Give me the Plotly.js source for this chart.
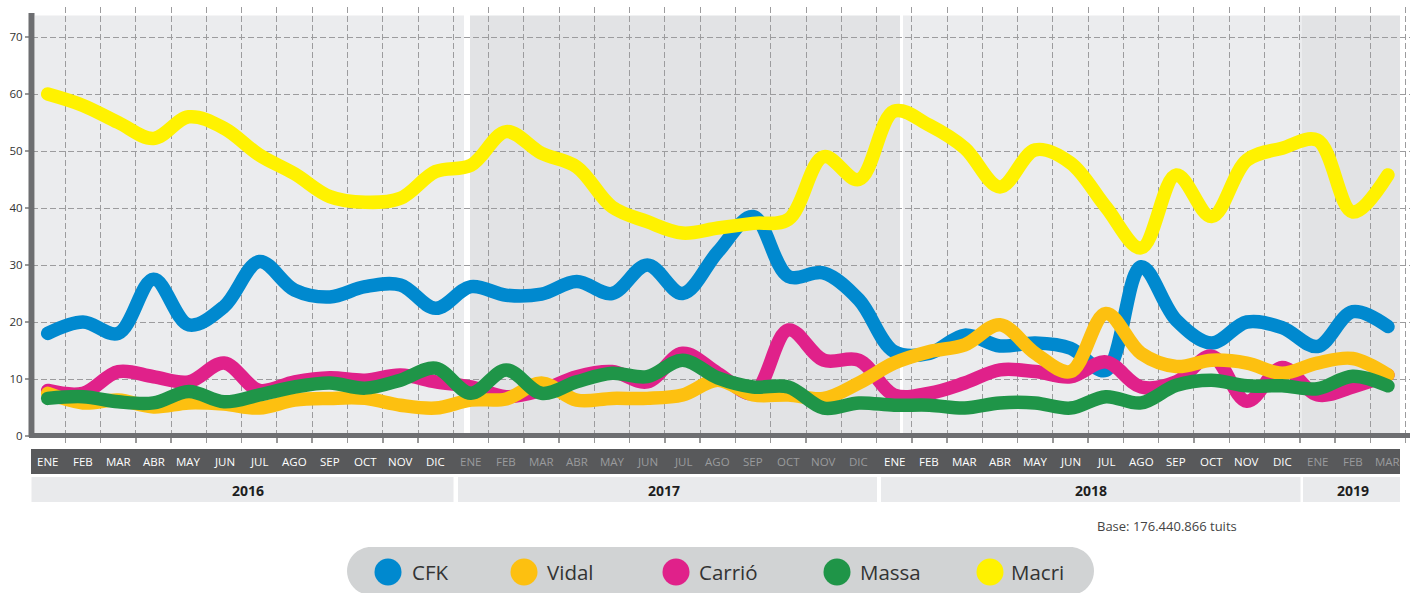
<!DOCTYPE html>
<html>
<head>
<meta charset="utf-8">
<script src="https://cdn.plot.ly/plotly-3.0.1.min.js"></script>
<style>
html,body{margin:0;padding:0;background:#fff;}
#chart{width:1414px;height:593px;}
.scatterlayer .js-line{stroke-linecap:round;stroke-linejoin:round;}
</style>
</head>
<body>
<div id="chart"></div>
<script>
// ---------- DATA ----------
const monthLabels = [
  'ENE','FEB','MAR','ABR','MAY','JUN','JUL','AGO','SEP','OCT','NOV','DIC',
  'ENE','FEB','MAR','ABR','MAY','JUN','JUL','AGO','SEP','OCT','NOV','DIC',
  'ENE','FEB','MAR','ABR','MAY','JUN','JUL','AGO','SEP','OCT','NOV','DIC',
  'ENE','FEB','MAR'
];
const monthYear = [
  2016,2016,2016,2016,2016,2016,2016,2016,2016,2016,2016,2016,
  2017,2017,2017,2017,2017,2017,2017,2017,2017,2017,2017,2017,
  2018,2018,2018,2018,2018,2018,2018,2018,2018,2018,2018,2018,
  2019,2019,2019
];
const years = ['2016','2017','2018','2019'];
const seriesNames = ['CFK','Vidal','Carrió','Massa','Macri'];

const CFK = [18, 20, 18, 27.5, 19.5, 22.7, 30.6, 25.6, 24.4, 26.2, 26.5, 22.4,
             26.2, 24.7, 24.9, 27.1, 25, 30, 25, 32.3, 38.5, 28, 28.6, 23.9,
             14.8, 14.5, 17.7, 15.8, 16.3, 15.4, 11.5, 29.7, 20.3, 16.3, 20, 19,
             15.7, 21.8, 19.2];
const Vidal = [7.5, 5.8, 6.3, 5.1, 5.8, 5.6, 4.9, 6.3, 6.6, 6.6, 5.4, 4.9,
               6.3, 6.5, 9.3, 6.3, 6.6, 6.6, 7.2, 9.8, 7.2, 7.2, 6.6, 9.3,
               12.8, 14.8, 16, 19.5, 14.5, 11.3, 21.5, 14.5, 12.2, 13.3, 12.8, 11,
               12.8, 13.6, 10.7];
const Carrio = [8, 7.5, 11.3, 10.4, 9.5, 12.8, 8, 9.5, 10.2, 9.8, 10.7, 9.5,
                8.6, 6.9, 8, 10.4, 11.3, 9.5, 14.5, 11, 7.5, 18.6, 13.3, 13.3,
                7.2, 7.5, 9.3, 11.6, 11.3, 10.4, 13, 8.6, 9.5, 14, 6.1, 12, 7.2, 8.6, 10.7];
const Massa = [6.6, 6.9, 6.0, 5.8, 7.8, 6.0, 7.2, 8.6, 9.3, 8.4, 9.8, 11.9,
               7.5, 11.6, 7.5, 9.5, 11, 10.4, 13.3, 10.2, 8.6, 8.6, 4.9, 5.8,
               5.4, 5.4, 4.9, 5.8, 5.8, 4.9, 6.9, 5.8, 8.9, 9.8, 8.8, 8.8,
               8.3, 10.5, 8.8];
const Macri = [60, 58, 55, 52.2, 56, 54, 49.3, 46, 42, 41, 41.7, 46.4,
               47.5, 53.4, 49.6, 47.2, 40.2, 37.6, 35.6, 36.5, 37.3, 38, 49, 45,
               57, 54.5, 50.5, 43.7, 50.2, 47.9, 40.2, 33, 45.8, 38.5, 48.4, 50.5,
               51.9, 39.3, 45.8];
const yTicks = [0,10,20,30,40,50,60,70];
const baseText = 'Base: 176.440.866 tuits';

// ---------- STYLE ----------
const colors = {CFK:'#0089CF', Vidal:'#FDC010', 'Carrió':'#E0218A', Massa:'#1F9548', Macri:'#FFF200'};
const FONT = '"Open Sans", Roboto, sans-serif';
const L = 32, R = 1410, T = 7, B = 436;
const W = R - L, H = B - T;
const px = x => (x - L) / W;
const py = y => (B - y) / H;
const X0 = 47.7, DX = 35.27;   // pixel of first month, pixels per month
const xi = p => (p - X0) / DX;  // pixel -> month index
const idx = monthLabels.map((_, i) => i);

// draw order (bottom -> top)
const order = [['CFK', CFK], ['Carrió', Carrio], ['Vidal', Vidal], ['Massa', Massa], ['Macri', Macri]];
const traces = order.map(([name, vals]) => ({
  type: 'scatter', mode: 'lines', name: name, x: idx, y: vals,
  line: {color: colors[name], width: 13.5, shape: 'spline', smoothing: 1},
  hoverinfo: 'x+y+name', showlegend: false
}));

const shapes = [];
const annotations = [];

// year panels in plot background
const panels = [
  [35, 464, '#EBECEE'], [470, 900, '#E2E3E5'], [903, 1302, '#EBECEE'], [1302, 1400, '#E2E3E5']
];
panels.forEach(([a, b, c]) => shapes.push({
  type: 'rect', layer: 'below', xref: 'x', yref: 'paper',
  x0: xi(a), x1: xi(b), y0: 0, y1: py(15.5), fillcolor: c, line: {width: 0}
}));

// axis lines
shapes.push({type: 'line', layer: 'above', xref: 'paper', yref: 'paper',
  x0: px(31.5), x1: px(31.5), y0: py(437), y1: py(13), line: {color: '#6D6E71', width: 6}});
shapes.push({type: 'line', layer: 'above', xref: 'paper', yref: 'paper',
  x0: px(29), x1: px(1410), y0: py(435.5), y1: py(435.5), line: {color: '#6D6E71', width: 5}});

// month band
shapes.push({type: 'rect', layer: 'above', xref: 'paper', yref: 'paper',
  x0: px(31), x1: px(1400), y0: py(449), y1: py(474), fillcolor: '#58595B', line: {width: 0}});
idx.forEach(i => {
  const dim = (monthYear[i] === 2017 || monthYear[i] === 2019);
  annotations.push({xref: 'x', yref: 'paper', x: i, y: py(461.5), text: monthLabels[i],
    showarrow: false, xanchor: 'center', yanchor: 'middle',
    font: {family: FONT, size: 11.5, color: dim ? '#9A9B9D' : '#FFFFFF'}});
});

// year boxes
const yearBoxes = [[31.5, 453.5, 248], [458, 877, 664], [881, 1300.5, 1091], [1303, 1400, 1353]];
yearBoxes.forEach(([a, b, c], k) => {
  shapes.push({type: 'rect', layer: 'above', xref: 'paper', yref: 'paper',
    x0: px(a), x1: px(b), y0: py(477), y1: py(502), fillcolor: '#E9EAEC', line: {width: 0}});
  annotations.push({xref: 'paper', yref: 'paper', x: px(c), y: py(490), text: '<b>' + years[k] + '</b>',
    showarrow: false, xanchor: 'center', yanchor: 'middle',
    font: {family: FONT, size: 14, color: '#1E1E1E'}});
});

// base note
annotations.push({xref: 'paper', yref: 'paper', x: px(1095), y: py(526), text: baseText,
  showarrow: false, xanchor: 'left', yanchor: 'middle',
  font: {family: FONT, size: 13, color: '#444'}});

// legend pill
const r = 24, k = 0.5523 * r, lx = 347, rx = 1094, ty = 547, by = 595, cy = 571;
const P = (x, y) => px(x) + ',' + py(y);
const pill = 'M' + P(lx + r, ty) + ' L' + P(rx - r, ty) +
  ' C' + P(rx - r + k, ty) + ' ' + P(rx, cy - k) + ' ' + P(rx, cy) +
  ' C' + P(rx, cy + k) + ' ' + P(rx - r + k, by) + ' ' + P(rx - r, by) +
  ' L' + P(lx + r, by) +
  ' C' + P(lx + r - k, by) + ' ' + P(lx, cy + k) + ' ' + P(lx, cy) +
  ' C' + P(lx, cy - k) + ' ' + P(lx + r - k, ty) + ' ' + P(lx + r, ty) + ' Z';
shapes.push({type: 'path', layer: 'above', xref: 'paper', yref: 'paper', path: pill,
  fillcolor: '#D1D3D4', line: {width: 0}});
const legendPos = [[388, 410], [524, 545], [676, 697], [837, 858], [990, 1009]];
seriesNames.forEach((n, i) => {
  const [c, t] = legendPos[i], rad = 13.5;
  shapes.push({type: 'circle', layer: 'above', xref: 'paper', yref: 'paper',
    x0: px(c - rad), x1: px(c + rad), y0: py(572 + rad), y1: py(572 - rad),
    fillcolor: colors[n], line: {width: 0}});
  annotations.push({xref: 'paper', yref: 'paper', x: px(t), y: py(572), text: n,
    showarrow: false, xanchor: 'left', yanchor: 'middle',
    font: {family: FONT, size: 20.5, color: '#333'}});
});

const layout = {
  width: 1414, height: 593,
  margin: {l: L, r: 1414 - R, t: T, b: 593 - B, pad: 0},
  paper_bgcolor: '#FFFFFF', plot_bgcolor: 'rgba(0,0,0,0)',
  showlegend: false,
  font: {family: FONT},
  xaxis: {
    range: [xi(L), xi(R)], showticklabels: false,
    tickmode: 'array', tickvals: idx.map(i => i + 0.5),
    ticks: 'outside', ticklen: 6, tickwidth: 1.5, tickcolor: '#999',
    showgrid: true, gridcolor: '#9C9C9E', gridwidth: 1, griddash: '6px,3px',
    zeroline: false, showline: false, fixedrange: true
  },
  yaxis: {
    range: [0, H / 5.70],
    tickmode: 'array', tickvals: yTicks, ticktext: yTicks.map(String),
    ticks: 'outside', ticklen: 6, tickwidth: 1.5, tickcolor: '#999',
    tickfont: {family: FONT, size: 11.5, color: '#333'},
    showgrid: true, gridcolor: '#9C9C9E', gridwidth: 1, griddash: '6px,3px',
    zeroline: false, showline: false, fixedrange: true
  },
  shapes: shapes,
  annotations: annotations
};

Plotly.newPlot('chart', traces, layout, {displayModeBar: false, staticPlot: true});
</script>
</body>
</html>
